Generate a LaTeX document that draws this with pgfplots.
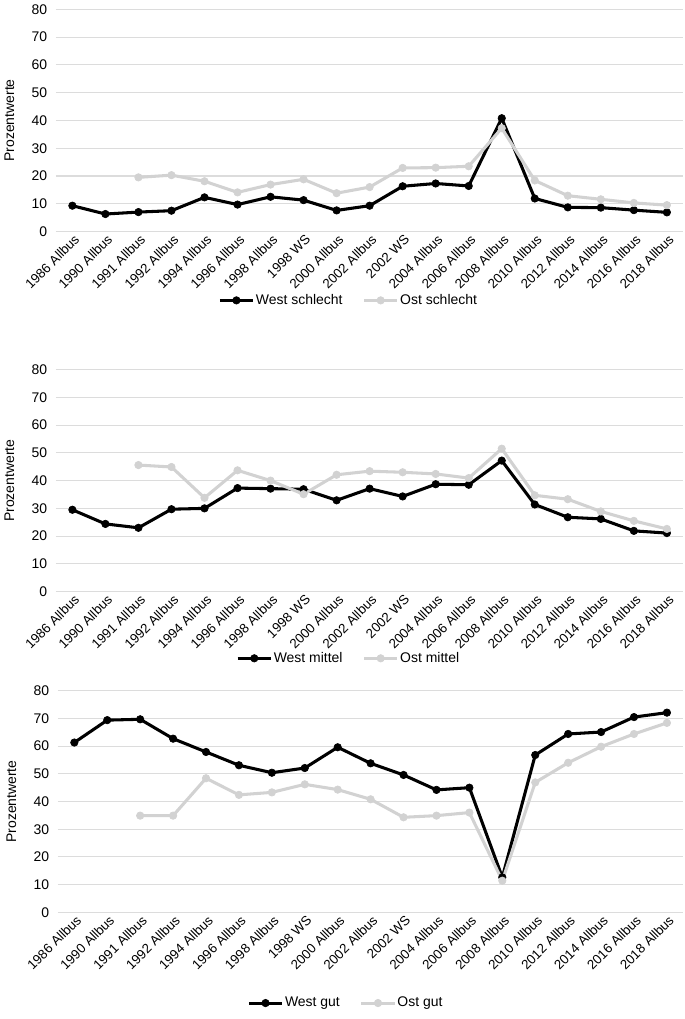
\documentclass[border=0pt]{standalone}
\usepackage{pgfplots}
\pgfplotsset{compat=1.18}
\usepackage{fontspec}
\setmainfont{Liberation Sans}

\definecolor{ostgray}{RGB}{210,210,210}
\definecolor{gridgray}{RGB}{220,220,220}

\pgfplotsset{
  panel/.style={
    scale only axis,
    width=471.75pt, height=167pt,
    xmin=-0.5, xmax=18.5, ymin=0, ymax=80,
    ytick={0,10,...,80},
    xtick={0,...,18},
    xticklabels={1986 Allbus,1990 Allbus,1991 Allbus,1992 Allbus,1994 Allbus,1996 Allbus,1998 Allbus,1998 WS,2000 Allbus,2002 Allbus,2002 WS,2004 Allbus,2006 Allbus,2008 Allbus,2010 Allbus,2012 Allbus,2014 Allbus,2016 Allbus,2018 Allbus},
    x tick label style={rotate=45, anchor=north east, inner sep=0.5pt, yshift=-1pt, font=\fontsize{10}{12}\selectfont},
    y tick label style={font=\fontsize{10.5}{12}\selectfont, xshift=-3pt},
    /pgf/number format/assume math mode=true,
    ymajorgrids, grid style={gridgray, line width=0.8pt},
    axis line style={draw=none},
    major tick length=0pt,
    ylabel={Prozentwerte},
    ylabel style={at={(axis description cs:-0.0742,0.5)}, anchor=center, font=\fontsize{10.5}{12}\selectfont},
    legend columns=2,
    legend style={draw=none, fill=none, font=\fontsize{10.5}{12}\selectfont,
      anchor=center, at={(0.466,-0.31)},
      /tikz/every even column/.append style={column sep=14pt},
      /tikz/every odd column/.append style={column sep=0pt},
      nodes={inner sep=1pt}},
    legend image code/.code={%
      \draw[mark repeat=2,mark phase=2,#1] plot coordinates {(0pt,0pt) (12.5pt,0pt) (25pt,0pt)};},
  },
  west/.style={black, line width=2.3pt, mark=*, mark size=2.8pt, mark options={solid, fill=black, line width=0.5pt}},
  ost/.style={ostgray, line width=2.3pt, mark=*, mark size=2.8pt, mark options={solid, fill=ostgray, line width=0.5pt}},
}

\begin{document}
\begin{tikzpicture}
% ---------- Panel 1: schlecht ----------
\begin{axis}[panel, at={(0pt,0pt)}, anchor=north west]
\addplot[west] coordinates {
(0,9.3) (1,6.3) (2,7.0) (3,7.5) (4,12.3) (5,9.7) (6,12.5) (7,11.3) (8,7.6) (9,9.3)
(10,16.3) (11,17.3) (12,16.4) (13,40.8) (14,11.9) (15,8.7) (16,8.6) (17,7.7) (18,6.9)};
\addlegendentry{West schlecht}
\addplot[ost] coordinates {
(2,19.5) (3,20.3) (4,18.1) (5,14.1) (6,16.9) (7,18.8) (8,13.8) (9,16.0)
(10,22.9) (11,23.0) (12,23.5) (13,37.2) (14,18.4) (15,12.9) (16,11.6) (17,10.3) (18,9.5)};
\addlegendentry{Ost schlecht}
\end{axis}

% ---------- Panel 2: mittel ----------
\begin{axis}[panel, at={(0pt,-270.75pt)}, anchor=north west,
  legend style={at={(0.466,-0.30)}}]
\addplot[west] coordinates {
(0,29.5) (1,24.4) (2,23.0) (3,29.7) (4,30.0) (5,37.3) (6,37.1) (7,36.9) (8,32.9) (9,37.1)
(10,34.3) (11,38.7) (12,38.5) (13,47.2) (14,31.4) (15,26.8) (16,26.2) (17,21.9) (18,21.1)};
\addlegendentry{West mittel}
\addplot[ost] coordinates {
(2,45.6) (3,44.9) (4,33.8) (5,43.7) (6,40.0) (7,35.1) (8,42.1) (9,43.4)
(10,43.0) (11,42.4) (12,40.9) (13,51.5) (14,34.7) (15,33.3) (16,28.9) (17,25.5) (18,22.6)};
\addlegendentry{Ost mittel}
\end{axis}

% ---------- Panel 3: gut ----------
\begin{axis}[panel, at={(1.5pt,-512.25pt)}, anchor=north west, width=470.25pt, height=166.5pt,
  legend style={at={(0.46,-0.41)}}]
\addplot[west] coordinates {
(0,61.3) (1,69.4) (2,69.7) (3,62.7) (4,57.9) (5,53.1) (6,50.4) (7,52.1) (8,59.6) (9,53.8)
(10,49.6) (11,44.2) (12,45.0) (13,12.6) (14,56.8) (15,64.4) (16,65.1) (17,70.5) (18,72.1)};
\addlegendentry{West gut}
\addplot[ost] coordinates {
(2,34.9) (3,34.9) (4,48.4) (5,42.4) (6,43.3) (7,46.2) (8,44.3) (9,40.8)
(10,34.3) (11,34.9) (12,36.0) (13,11.4) (14,46.9) (15,54.0) (16,59.8) (17,64.4) (18,68.4)};
\addlegendentry{Ost gut}
\end{axis}

\path (-41.25pt,5.25pt) rectangle (472.5pt,-759pt);
\end{tikzpicture}
\end{document}
